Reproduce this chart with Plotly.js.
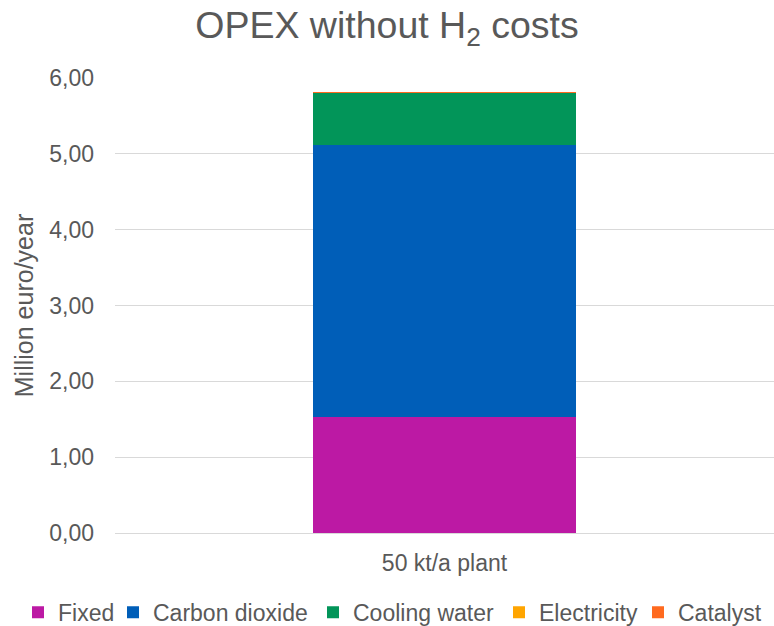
<!DOCTYPE html>
<html><head><meta charset="utf-8">
<script src="https://cdn.plot.ly/plotly-3.0.1.min.js"></script>
<style>html,body{margin:0;padding:0;background:#fff}#chart{width:774px;height:626px}</style>
</head><body><div id="chart"></div>
<script>
const categories = ["50 kt/a plant"];
const seriesNames = ["Fixed", "Carbon dioxide", "Cooling water", "Electricity", "Catalyst"];
const fixedVals = [1.53];
const co2Vals = [3.58];
const coolingVals = [0.69];
const electricityVals = [0.003];
const catalystVals = [0.008];
const colors = ["#BC19A4", "#005EB8", "#029559", "#FFA500", "#FF6A1F"];
const allVals = [fixedVals, co2Vals, coolingVals, electricityVals, catalystVals];
const legendLefts = [18, 113, 313, 499, 638];

const legendIds = seriesNames.map((n, i) => i === 0 ? "legend" : "legend" + (i + 1));
const traces = seriesNames.map((n, i) => ({
  type: "bar", name: n, x: categories, y: allVals[i],
  marker: {color: colors[i], line: {width: 0}},
  legend: legendIds[i],
  hoverinfo: "skip"
}));

const font = {family: "Liberation Sans, Arial, sans-serif", color: "#595959"};
const layout = {
  width: 774, height: 626,
  barmode: "stack", bargap: 0.6,
  margin: {l: 115, r: 0, t: 78, b: 93},
  paper_bgcolor: "#fff", plot_bgcolor: "#fff",
  font: font,
  separators: ",.",
  title: {text: "OPEX without H<sub>2</sub> costs", font: {size: 37.5, color: "#595959"}, x: 0.5, xanchor: "center", y: 0.96, yanchor: "middle", yref: "container"},
  xaxis: {tickfont: {size: 23, color: "#595959"}, showline: false, ticks: "", showgrid: false, ticklabelstandoff: 14},
  yaxis: {range: [0, 6], dtick: 1, tickformat: ".2f", tickfont: {size: 23, color: "#595959"},
    gridcolor: "#d9d9d9", gridwidth: 1, zeroline: true, zerolinecolor: "#d9d9d9", showline: false, ticks: "",
    ticklabelstandoff: 20,
    title: {text: "Million euro/year", font: {size: 25, color: "#595959"}, standoff: 8}},
  showlegend: true
};
legendIds.forEach((id, i) => {
  layout[id] = {orientation: "h", x: legendLefts[i] / 774, xanchor: "left", xref: "container",
    y: 0.022, yanchor: "middle", yref: "container",
    font: {size: 23, color: "#595959"}, itemwidth: 30, bgcolor: "rgba(0,0,0,0)"};
});
Plotly.newPlot("chart", traces, layout, {displayModeBar: false, staticPlot: true});
</script></body></html>
